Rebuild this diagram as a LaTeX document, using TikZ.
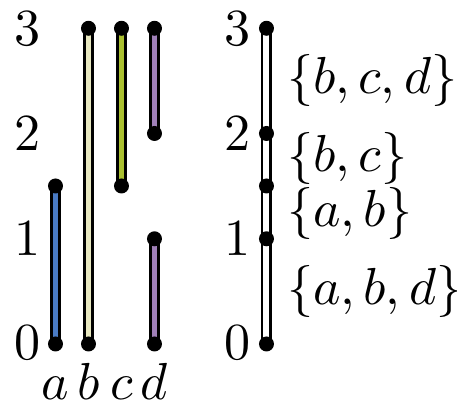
\documentclass[tikz,border=0pt]{standalone}
\definecolor{ca}{RGB}{74,123,196}
\definecolor{cb}{RGB}{232,232,192}
\definecolor{cc}{RGB}{170,192,48}
\definecolor{cd}{RGB}{160,128,184}
\tikzset{
  barout/.style={line width=2.1pt, draw=black},
  barin/.style={line width=1.15pt},
  lbl/.style={font=\fontsize{10}{12}\selectfont, inner sep=0pt},
}
\begin{document}
\begin{tikzpicture}[x=0.192pt, y=-0.192pt]
\useasboundingbox (0,0) rectangle (457,407);
% endpoints
\coordinate (a0) at (55.5,344);   \coordinate (a1) at (55.5,186);
\coordinate (b0) at (88.5,344);   \coordinate (b1) at (88.5,28.3);
\coordinate (c0) at (121.5,186);  \coordinate (c1) at (121.5,28.3);
\coordinate (d0) at (154.5,344);  \coordinate (d1) at (154.5,238.8);
\coordinate (d2) at (154.5,133.5);\coordinate (d3) at (154.5,28.3);
\coordinate (r0) at (266.5,344);  \coordinate (r1) at (266.5,238.8);
\coordinate (r2) at (266.5,186);  \coordinate (r3) at (266.5,133.5);
\coordinate (r4) at (266.5,28.3);
% bars
\foreach \p/\q/\c in {a0/a1/ca, b0/b1/cb, c0/c1/cc, d0/d1/cd, d2/d3/cd, r0/r4/white}{
  \draw[barout] (\p) -- (\q);
  \draw[barin, draw=\c] (\p) -- (\q);
}
% dots
\foreach \p in {a0,a1,b0,b1,c0,c1,d0,d1,d2,d3,r0,r1,r2,r3,r4}{
  \fill[black] (\p) circle (7.5);
}
% axis numbers
\node[lbl] (l0) at (28,343) {$0$};
\node[lbl] (l1) at (28,238.8) {$1$};
\node[lbl] (l2) at (28,133.5) {$2$};
\node[lbl] (l3) at (28,28.3) {$3$};
\node[lbl] (m0) at (238,343) {$0$};
\node[lbl] (m1) at (238,238.8) {$1$};
\node[lbl] (m2) at (238,133.5) {$2$};
\node[lbl] (m3) at (238,28.3) {$3$};
% letters
\node[lbl, anchor=base] (ta) at (55.5,400) {$a$};
\node[lbl, anchor=base] (tb) at (88.5,400) {$b$};
\node[lbl, anchor=base] (tc) at (121.5,400) {$c$};
\node[lbl, anchor=base] (td) at (154.5,400) {$d$};
% sets
\node[lbl, anchor=west] (s1) at (286,80) {$\{b,c,d\}$};
\node[lbl, anchor=west] (s2) at (286,158) {$\{b,c\}$};
\node[lbl, anchor=west] (s3) at (286,213) {$\{a,b\}$};
\node[lbl, anchor=west] (s4) at (286,292) {$\{a,b,d\}$};
\end{tikzpicture}
\end{document}
